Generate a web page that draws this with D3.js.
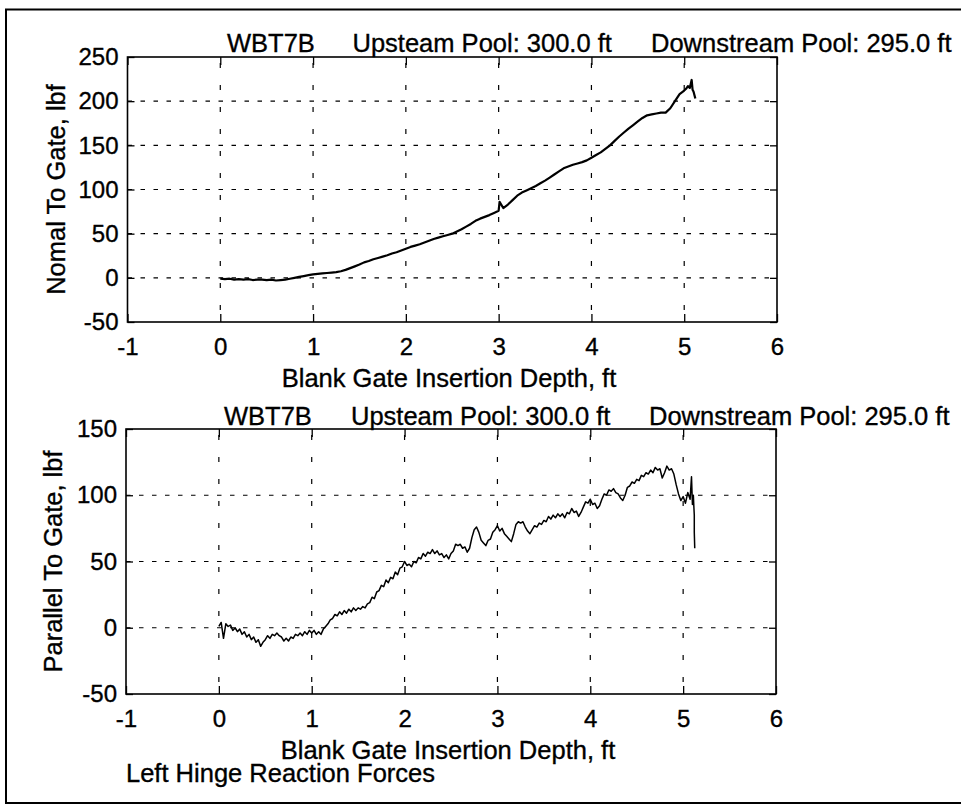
<!DOCTYPE html>
<html>
<head>
<meta charset="utf-8">
<script src="https://cdn.jsdelivr.net/npm/d3@7"></script>
<style>
  html, body { margin: 0; padding: 0; background: #fff; }
  svg { display: block; }
  text { font-family: "Liberation Sans", Arial, Helvetica, sans-serif; fill: #000; stroke: #000; stroke-width: 0.35px; }
</style>
</head>
<body>
<svg id="chart" width="961" height="805"></svg>
<script>
// Left hinge reaction forces, blank gate run WBT7B
const runTitle = ["WBT7B", "Upsteam Pool: 300.0 ft", "Downstream Pool: 295.0 ft"];
const xLabel = "Blank Gate Insertion Depth, ft";
const yLabelNormal = "Nomal To Gate, lbf";
const yLabelParallel = "Parallel To Gate, lbf";
const footer = "Left Hinge Reaction Forces";

const xTicks = [-1, 0, 1, 2, 3, 4, 5, 6];
const yTicksNormal = [-50, 0, 50, 100, 150, 200, 250];
const yTicksParallel = [-50, 0, 50, 100, 150];

// Normal force, lbf, against insertion depth, ft
const normalDepth = [
  0.00, 0.05, 0.10, 0.15, 0.20, 0.25, 0.30, 0.35, 0.40, 0.45,
  0.50, 0.55, 0.60, 0.65, 0.70, 0.75, 0.80, 0.85, 0.90, 0.95,
  1.00, 1.05, 1.10, 1.15, 1.20, 1.25, 1.30, 1.35, 1.40, 1.45,
  1.50, 1.55, 1.60, 1.65, 1.70, 1.75, 1.80, 1.85, 1.90, 1.95,
  2.00, 2.05, 2.10, 2.15, 2.20, 2.25, 2.30, 2.35, 2.40, 2.45,
  2.50, 2.55, 2.60, 2.65, 2.70, 2.75, 2.80, 2.85, 2.90, 2.95,
  3.00, 3.01, 3.05, 3.10, 3.15, 3.20, 3.25, 3.30, 3.35, 3.40, 3.45,
  3.50, 3.55, 3.60, 3.65, 3.70, 3.75, 3.80, 3.85, 3.90, 3.95,
  4.00, 4.05, 4.10, 4.15, 4.20, 4.25, 4.30, 4.35, 4.40, 4.45,
  4.50, 4.55, 4.60, 4.65, 4.70, 4.75, 4.80, 4.85, 4.90, 4.95,
  5.00, 5.02, 5.04, 5.06, 5.08, 5.09, 5.10, 5.12
];
const normalForce = [
  -1, -1.5, -1, -2, -1.5, -2, -1.5, -2.5, -2, -2,
  -2.5, -2, -3, -2.5, -2, -1, 0, 1, 2, 3,
  4, 4.5, 5, 5.5, 6, 6.5, 7.5, 9, 11, 13,
  15, 17.5, 19, 21, 22.5, 24, 25.5, 27.5, 29, 31,
  33, 35, 36.5, 38, 40, 42, 44, 45.5, 47, 48.5,
  50, 52.5, 55, 58, 61, 64.5, 67, 69, 71, 73.5,
  76, 86, 79, 83, 88, 93, 96.5, 99, 101.5, 104, 107,
  110, 113.5, 117, 120.5, 124, 126, 128, 129.5, 131, 133,
  136, 139, 142, 146, 150, 155, 160, 164.5, 169, 173,
  177, 181, 184, 185, 186, 187, 187, 192, 200, 208,
  212, 214, 217, 215, 224, 213, 211, 203
];

// Parallel force, lbf, against insertion depth, ft
const parallelDepth = [
  0.000, 0.025, 0.050, 0.075, 0.100, 0.125, 0.150, 0.175, 0.200, 0.225,
  0.250, 0.275, 0.300, 0.325, 0.350, 0.375, 0.400, 0.425, 0.450, 0.475,
  0.500, 0.525, 0.550, 0.575, 0.600, 0.625, 0.650, 0.675, 0.700, 0.725,
  0.750, 0.775, 0.800, 0.825, 0.850, 0.875, 0.900, 0.925, 0.950, 0.975,
  1.000, 1.025, 1.050, 1.075, 1.100, 1.125, 1.150, 1.175, 1.200, 1.225,
  1.250, 1.275, 1.300, 1.325, 1.350, 1.375, 1.400, 1.425, 1.450, 1.475,
  1.500, 1.525, 1.550, 1.575, 1.600, 1.625, 1.650, 1.675, 1.700, 1.725,
  1.750, 1.775, 1.800, 1.825, 1.850, 1.875, 1.900, 1.925, 1.950, 1.975,
  2.000, 2.025, 2.050, 2.075, 2.100, 2.125, 2.150, 2.175, 2.200, 2.225,
  2.250, 2.275, 2.300, 2.325, 2.350, 2.375, 2.400, 2.425, 2.450, 2.475,
  2.500, 2.525, 2.550, 2.575, 2.600, 2.625, 2.650, 2.675, 2.700, 2.725,
  2.750, 2.775, 2.800, 2.825, 2.850, 2.875, 2.900, 2.925, 2.950, 2.975,
  3.000, 3.025, 3.050, 3.075, 3.100, 3.125, 3.150, 3.175, 3.200, 3.225,
  3.250, 3.275, 3.300, 3.325, 3.350, 3.375, 3.400, 3.425, 3.450, 3.475,
  3.500, 3.525, 3.550, 3.575, 3.600, 3.625, 3.650, 3.675, 3.700, 3.725,
  3.750, 3.775, 3.800, 3.825, 3.850, 3.875, 3.900, 3.925, 3.950, 3.975,
  4.000, 4.025, 4.050, 4.075, 4.100, 4.125, 4.150, 4.175, 4.200, 4.225,
  4.250, 4.275, 4.300, 4.325, 4.350, 4.375, 4.400, 4.425, 4.450, 4.475,
  4.500, 4.525, 4.550, 4.575, 4.600, 4.625, 4.650, 4.675, 4.700, 4.725,
  4.750, 4.775, 4.800, 4.825, 4.850, 4.875, 4.900, 4.925, 4.950, 4.975,
  5.000, 5.025, 5.050, 5.075, 5.090, 5.100, 5.110, 5.115, 5.120, 5.120, 5.125
];
const parallelForce = [
  1, 4, -8, 3, 1, 2, -2, 0, -3, -1,
  -5, -3, -7, -5, -9, -7, -11, -9, -14, -11,
  -9, -6, -8, -5, -6, -4, -6, -7, -10, -8,
  -10, -7, -8, -5, -6, -4, -6, -3, -5, -2,
  -4, -2, -5, -3, -5, -1, 1, 3, 6, 7,
  10, 9, 12, 10, 13, 11, 14, 12, 15, 13,
  15, 14, 16, 15, 18, 19, 23, 22, 27, 28,
  32, 31, 36, 34, 38, 37, 42, 40, 45, 46,
  50, 47, 48, 46, 50, 49, 53, 52, 56, 54,
  57, 56, 59, 56, 58, 55, 56, 53, 55, 52,
  56, 58, 63, 62, 63, 60, 61, 57, 60, 68,
  74, 76, 72, 66, 64, 62, 66, 67, 72, 74,
  77, 73, 75, 71, 69, 67, 65, 71, 78, 80,
  79, 80, 76, 73, 71, 74, 77, 76, 79, 78,
  81, 80, 84, 82, 85, 83, 86, 84, 86, 83,
  87, 86, 90, 87, 88, 84, 87, 91, 95, 94,
  97, 93, 94, 90, 92, 97, 101, 100, 104, 103,
  105, 102, 101, 98, 96, 100, 106, 107, 110, 109,
  112, 111, 115, 114, 117, 116, 119, 117, 121, 119,
  120, 113, 117, 122, 119, 120, 116, 108, 101, 96,
  99, 94, 102, 97, 114, 93, 100, 92, 85, 72, 60
];

const svg = d3.select("#chart");
const W = 961, H = 805;
svg.append("rect").attr("width", W).attr("height", H).attr("fill", "#fff");

// page frame (right side runs off the page)
svg.append("path")
  .attr("d", `M ${W + 5} 9.5 H 6 V 803 H ${W + 5}`)
  .attr("fill", "none").attr("stroke", "#000").attr("stroke-width", 2);

// plain hyphen for negative tick labels
const tickText = d => String(d);

function drawPanel(cfg) {
  const x = d3.scaleLinear().domain([-1, 6]).range([cfg.left, cfg.right]);
  const y = d3.scaleLinear().domain(cfg.yDomain).range([cfg.bottom, cfg.top]);
  const g = svg.append("g");

  // dotted grid
  const yInner = cfg.yTicks.filter(v => v > cfg.yDomain[0] && v < cfg.yDomain[1]);
  const xInner = xTicks.filter(v => v > -1 && v < 6);
  g.append("g").selectAll("line").data(yInner).join("line")
    .attr("x1", cfg.left).attr("x2", cfg.right)
    .attr("y1", d => y(d)).attr("y2", d => y(d))
    .attr("stroke", "#000").attr("stroke-width", 1.2)
    .attr("stroke-dasharray", "4.5,8.5");
  g.append("g").selectAll("line").data(xInner).join("line")
    .attr("y1", cfg.top).attr("y2", cfg.bottom)
    .attr("x1", d => x(d)).attr("x2", d => x(d))
    .attr("stroke", "#000").attr("stroke-width", 1.2)
    .attr("stroke-dasharray", "5,17").attr("stroke-dashoffset", -6);

  // axes with inward ticks on all four sides
  const fontTick = "24px";
  const ax = g.append("g").attr("transform", `translate(0,${cfg.bottom})`)
    .call(d3.axisBottom(x).tickValues(xTicks).tickSize(-8).tickPadding(0).tickFormat(tickText));
  ax.selectAll("text").attr("y", 33).attr("dy", null).style("font-size", fontTick);
  g.append("g").attr("transform", `translate(0,${cfg.top})`)
    .call(d3.axisTop(x).tickValues(xTicks).tickSize(-8).tickFormat(""));
  const ay = g.append("g").attr("transform", `translate(${cfg.left},0)`)
    .call(d3.axisLeft(y).tickValues(cfg.yTicks).tickSize(-7).tickPadding(9).tickFormat(tickText));
  ay.selectAll("text").style("font-size", fontTick);
  g.append("g").attr("transform", `translate(${cfg.right},0)`)
    .call(d3.axisRight(y).tickValues(cfg.yTicks).tickSize(-7).tickFormat(""));
  g.selectAll(".domain").remove();
  g.selectAll(".tick line").attr("stroke", "#000").attr("stroke-width", 1.3);
  g.selectAll(".tick text").attr("fill", "#000").style("font-family", "'Liberation Sans', Arial, Helvetica, sans-serif");

  // box
  g.append("rect")
    .attr("x", cfg.left).attr("y", cfg.top)
    .attr("width", cfg.right - cfg.left).attr("height", cfg.bottom - cfg.top)
    .attr("fill", "none").attr("stroke", "#000").attr("stroke-width", 1.6);

  // trace
  const pts = cfg.depth.map((d, i) => [d, cfg.force[i]]);
  g.append("path").datum(pts)
    .attr("d", d3.line().x(d => x(d[0])).y(d => y(d[1])))
    .attr("fill", "none").attr("stroke", "#000")
    .attr("stroke-width", cfg.lineWidth).attr("stroke-linejoin", "round");

  // title pieces
  const fontLabel = "25.5px";
  runTitle.forEach((t, i) => {
    g.append("text").attr("x", cfg.titleX[i]).attr("y", cfg.titleY)
      .style("font-size", fontLabel).text(t);
  });
  g.append("text").attr("x", cfg.xLabelX).attr("y", cfg.xLabelY)
    .attr("text-anchor", "middle").style("font-size", fontLabel).text(xLabel);
  g.append("text")
    .attr("transform", `translate(${cfg.yLabelX},${(cfg.top + cfg.bottom) / 2}) rotate(-90)`)
    .attr("text-anchor", "middle").style("font-size", fontLabel).text(cfg.yLabel);
}

drawPanel({
  left: 127.5, right: 777, top: 57, bottom: 322,
  yDomain: [-50, 250], yTicks: yTicksNormal,
  depth: normalDepth, force: normalForce, lineWidth: 2.2,
  titleX: [227, 352.5, 651], titleY: 52,
  xLabelX: 449, xLabelY: 387,
  yLabelX: 65, yLabel: yLabelNormal
});

drawPanel({
  left: 126, right: 776, top: 429, bottom: 694,
  yDomain: [-50, 150], yTicks: yTicksParallel,
  depth: parallelDepth, force: parallelForce, lineWidth: 1.5,
  titleX: [224, 351, 649], titleY: 425,
  xLabelX: 448, xLabelY: 758.5,
  yLabelX: 62, yLabel: yLabelParallel
});

svg.append("text").attr("x", 126).attr("y", 781.5)
  .style("font-size", "25.5px").text(footer);
</script>
</body>
</html>
